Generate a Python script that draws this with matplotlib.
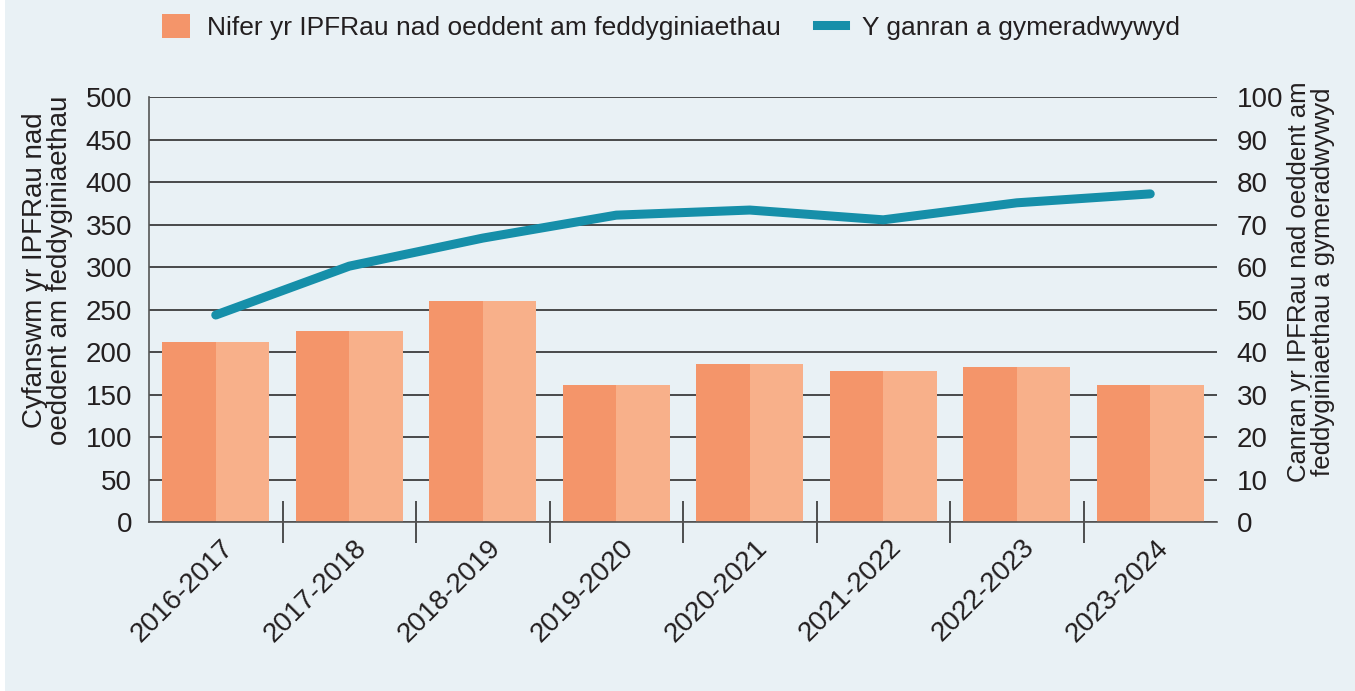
import numpy as np
import matplotlib
matplotlib.use('Agg')
import matplotlib.pyplot as plt
import matplotlib.transforms as mtransforms
from matplotlib.patches import Patch, Rectangle
from matplotlib.lines import Line2D

# Data
years = ['2016-2017', '2017-2018', '2018-2019', '2019-2020',
         '2020-2021', '2021-2022', '2022-2023', '2023-2024']
counts = [212, 225, 260, 161, 186, 178, 182, 161]
pct_accepted = [48.7, 60.2, 66.8, 72.2, 73.4, 71.1, 75.1, 77.2]

bar_label = 'Nifer yr IPFRau nad oeddent am feddyginiaethau'
line_label = 'Y ganran a gymeradwywyd'
left_ylabel = 'Cyfanswm yr IPFRau nad\noeddent am feddyginiaethau'
right_ylabel = 'Canran yr IPFRau nad oeddent am\nfeddyginiaethau a gymeradwywyd'

# Colours
bg = '#e9f1f5'
bar_dark = '#f4956a'
bar_light = '#f8b08a'
line_col = '#168fa9'
grid_col = '#3c3c3c'
text_col = '#231f20'

plt.rcParams['font.family'] = ['Liberation Sans', 'DejaVu Sans']

fig = plt.figure(figsize=(13.55, 6.91), dpi=100)
fig.patch.set_facecolor('white')
fig.patches.append(Rectangle((5 / 1355, 0), 1, 1, transform=fig.transFigure,
                             facecolor=bg, edgecolor='none', zorder=-10))

ax = fig.add_axes([149 / 1355, 1 - 522 / 691, (1217 - 149) / 1355, (522 - 97) / 691])
ax.set_facecolor('none')

x = np.arange(len(years))
half = 0.4
ax.bar(x - half / 2, counts, width=half, color=bar_dark, zorder=2)
ax.bar(x + half / 2, counts, width=half, color=bar_light, zorder=2)

ax.set_xlim(-0.5, len(years) - 0.5)
ax.set_ylim(0, 500)
ax.set_yticks(np.arange(0, 501, 50))
ax.yaxis.grid(True, color=grid_col, linewidth=1.3, zorder=0)
ax.set_axisbelow(True)

for side in ['top', 'right']:
    ax.spines[side].set_visible(False)
for side in ['left', 'bottom']:
    ax.spines[side].set_color('#555555')
    ax.spines[side].set_linewidth(1.2)

ax.tick_params(axis='y', length=0, pad=12, labelsize=20, labelcolor=text_col)

# category labels and separators
ax.set_xticks(x)
ax.set_xticklabels(years, rotation=45, ha='right', va='top', fontsize=20,
                   color=text_col)
ax.tick_params(axis='x', which='major', length=0, pad=9)
offset = mtransforms.ScaledTranslation(0.23, 0, fig.dpi_scale_trans)
for t in ax.get_xticklabels():
    t.set_transform(t.get_transform() + offset)
ax.set_xticks(x[:-1] + 0.5, minor=True)
ax.tick_params(axis='x', which='minor', length=30, width=1.1, color='#222222',
               direction='inout')

# percentage line on right axis
ax2 = ax.twinx()
ax2.plot(x, pct_accepted, color=line_col, linewidth=6.5,
         solid_capstyle='round', solid_joinstyle='round', zorder=3)
ax2.set_ylim(0, 100)
ax2.set_yticks(np.arange(0, 101, 10))
for side in ax2.spines:
    ax2.spines[side].set_visible(False)
ax2.tick_params(axis='y', length=0, pad=14, labelsize=20, labelcolor=text_col)

# axis titles
fig.text(48 / 1355, 1 - 270 / 691, left_ylabel, rotation=90, ha='center',
         va='center', fontsize=20, color=text_col, linespacing=0.95)
fig.text(1311 / 1355, 1 - 282 / 691, right_ylabel, rotation=90, ha='center',
         va='center', fontsize=18.5, color=text_col, linespacing=0.95)

# legend
handles = [Patch(facecolor=bar_dark, edgecolor='none'),
           Line2D([0], [0], color=line_col, linewidth=6.5)]
fig.legend(handles, [bar_label, line_label], loc='center',
           bbox_to_anchor=(671 / 1355, 1 - 27 / 691), ncol=2, frameon=False,
           fontsize=19, handlelength=1.06, handleheight=1.06,
           handletextpad=0.64, columnspacing=1.4, labelcolor=text_col)

fig.savefig('out.png', dpi=100, facecolor=fig.get_facecolor())
plt.close(fig)
